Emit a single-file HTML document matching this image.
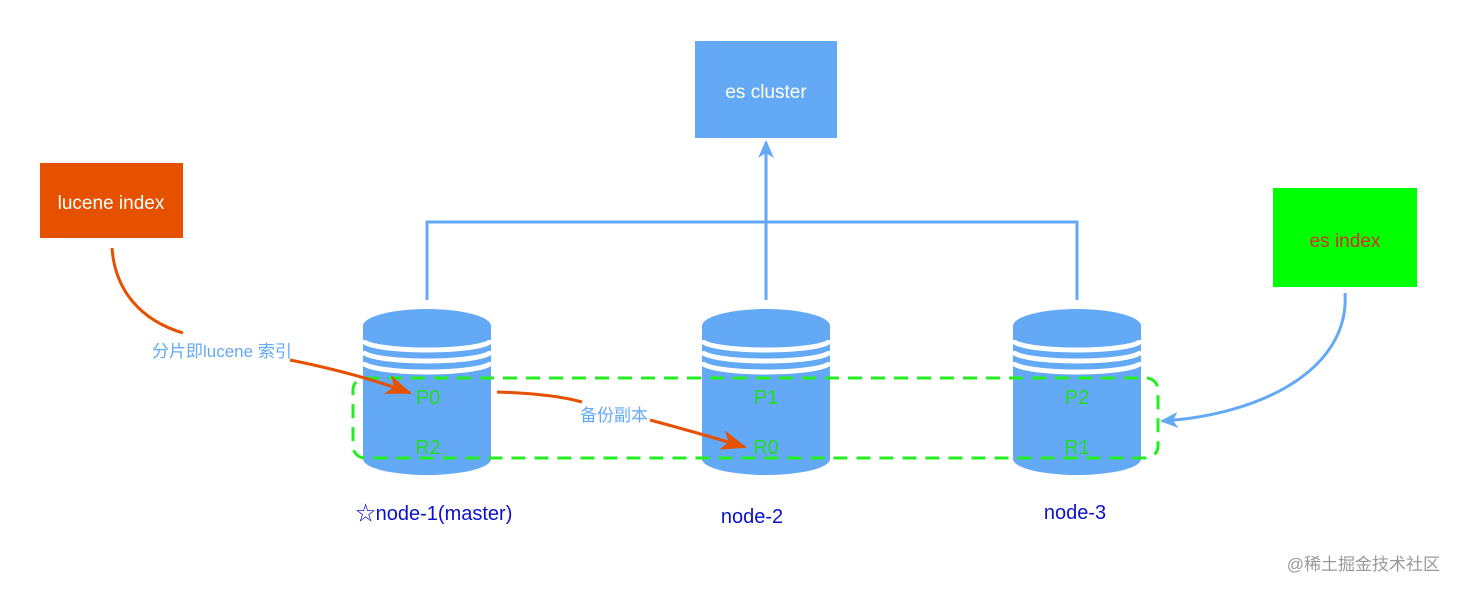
<!DOCTYPE html>
<html><head><meta charset="utf-8"><style>
html,body{margin:0;padding:0;background:#fff;}
svg{display:block;font-family:"Liberation Sans","Noto Sans CJK SC",sans-serif;}
</style></head><body>
<svg width="1458" height="592" viewBox="0 0 1458 592" xmlns="http://www.w3.org/2000/svg">
<defs>
<marker id="ab" markerWidth="18" markerHeight="18" refX="16" refY="9" orient="auto" markerUnits="userSpaceOnUse"><path d="M0,1 L18,9 L0,17 L5,9 Z" fill="#64a9f5"/></marker>
<marker id="ao2" markerWidth="26" markerHeight="20" refX="24" refY="10" orient="auto" markerUnits="userSpaceOnUse"><path d="M0,0 L26,10 L0,20 L7,10 Z" fill="#e65100"/></marker>
<g id="cyl">
<rect x="0" y="0" width="128" height="133" fill="#64a9f5"/>
<ellipse cx="64" cy="133" rx="64" ry="16" fill="#64a9f5"/>
<ellipse cx="64" cy="0" rx="64" ry="17" fill="#64a9f5"/>
<path d="M0,14 A64,10 0 0 0 128,14" fill="none" stroke="#fff" stroke-width="5"/>
<path d="M0,25 A64,10 0 0 0 128,25" fill="none" stroke="#fff" stroke-width="5"/>
<path d="M0,36 A64,10 0 0 0 128,36" fill="none" stroke="#fff" stroke-width="5"/>
</g>
</defs>

<rect x="695" y="41" width="142" height="97" fill="#64a9f5"/>
<text x="766" y="98" font-size="19" fill="#fff" text-anchor="middle">es cluster</text>
<rect x="40" y="163" width="143" height="75" fill="#e65100"/>
<text x="111" y="209" font-size="19" fill="#fff" text-anchor="middle">lucene index</text>
<rect x="1273" y="188" width="144" height="99" fill="#00ff00"/>
<text x="1345" y="247" font-size="19" fill="#d32f2f" text-anchor="middle">es index</text>

<path d="M427,300 V222 H1077 V300" fill="none" stroke="#64a9f5" stroke-width="3"/>
<line x1="766" y1="300" x2="766" y2="142" stroke="#64a9f5" stroke-width="3" marker-end="url(#ab)"/>

<use href="#cyl" x="363" y="326"/>
<use href="#cyl" x="702" y="326"/>
<use href="#cyl" x="1013" y="326"/>

<rect x="353" y="378" width="805" height="80" rx="12" fill="none" stroke="#22ee22" stroke-width="3" stroke-dasharray="14,9"/>

<g font-size="20" fill="#22dd22" text-anchor="middle">
<text x="428" y="404">P0</text><text x="428" y="454">R2</text>
<text x="766" y="404">P1</text><text x="766" y="454">R0</text>
<text x="1077" y="404">P2</text><text x="1077" y="454">R1</text>
</g>

<path d="M112,248 C115,290 140,320 183,333" fill="none" stroke="#e65100" stroke-width="3"/>
<path d="M290,360 C330,368 370,378 410,393" fill="none" stroke="#e65100" stroke-width="3" marker-end="url(#ao2)"/>
<text x="152" y="357" font-size="17" fill="#64a9f5">分片即lucene 索引</text>

<path d="M497,392 C530,393 560,396 582,402" fill="none" stroke="#e65100" stroke-width="3"/>
<path d="M650,420 C680,428 715,438 745,447" fill="none" stroke="#e65100" stroke-width="3" marker-end="url(#ao2)"/>
<text x="580" y="421" font-size="17" fill="#64a9f5">备份副本</text>

<path d="M1345,293 C1350,370 1260,415 1162,421" fill="none" stroke="#64a9f5" stroke-width="3" marker-end="url(#ab)"/>

<g font-size="20" fill="#0a10cc" text-anchor="middle">
<text x="434" y="520">☆node-1(master)</text>
<text x="752" y="523">node-2</text>
<text x="1075" y="519">node-3</text>
</g>
<text x="1440" y="570" font-size="17" fill="#999" text-anchor="end">@稀土掘金技术社区</text>
</svg>
</body></html>
